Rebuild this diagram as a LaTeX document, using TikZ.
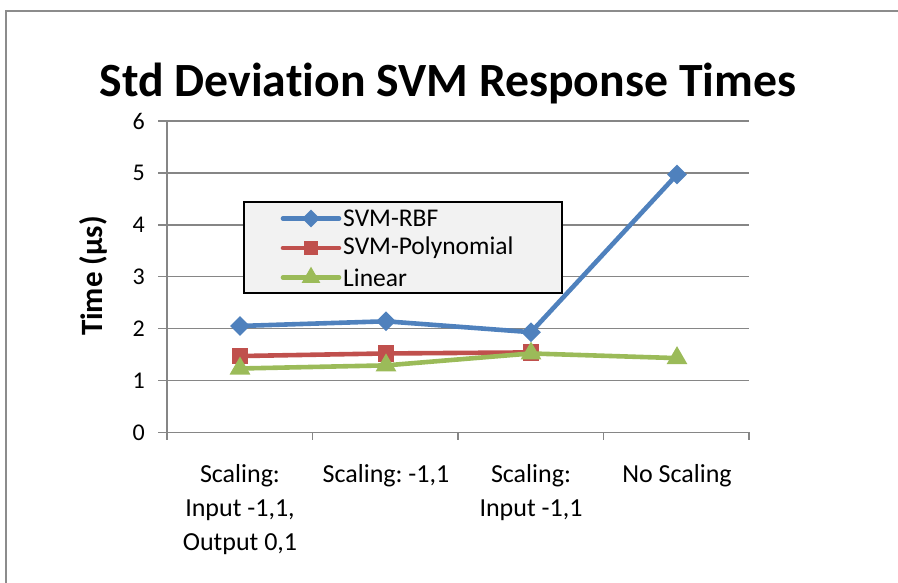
\documentclass[tikz,border=0pt]{standalone}
\usepackage{fontspec}
\setmainfont[Ligatures=NoCommon]{Carlito}
\usetikzlibrary{shapes.geometric,calc}
\definecolor{rbfc}{HTML}{4F81BD}
\definecolor{polyc}{HTML}{C0504D}
\definecolor{linc}{HTML}{9BBB59}
\definecolor{gridc}{HTML}{868686}
\definecolor{framec}{HTML}{8C8C8C}
\definecolor{legbg}{HTML}{F2F2F2}
% value -> vertical position (1 unit = 51.87pt, zero at 432.3)
\newcommand{\yv}[1]{{432.3-51.87*(#1)}}
\frenchspacing
\begin{document}
\begin{tikzpicture}[x=1pt,y=-1pt,
  gridline/.style={gridc, line width=1.6pt},
  series/.style={line width=4.6pt, line join=round},
  rbfmark/.style={diamond, fill=rbfc, inner sep=0pt, minimum size=20pt},
  polymark/.style={rectangle, fill=polyc, inner sep=0pt, minimum size=16.5pt},
  linmark/.style={regular polygon, regular polygon sides=3, fill=linc, inner sep=0pt, minimum size=24pt},
  ticklabel/.style={anchor=east, inner sep=0pt, font=\fontsize{24}{28}\selectfont},
  catlabel/.style={anchor=north, align=center, inner sep=0pt, font=\fontsize{26}{34}\selectfont},
  legtext/.style={anchor=west, inner sep=0pt, font=\fontsize{25.5}{30}\selectfont}
]
\useasboundingbox (0,0) rectangle (898,583);
% chart frame (continues past the right and bottom edges)
\draw[framec, line width=1.6pt] (6,11) rectangle (920,600);

% title
\node[font=\bfseries\fontsize{47.7}{54}\selectfont, inner sep=0pt] (title) at (448,84) {Std Deviation SVM Response Times};

% horizontal gridlines and value labels
\foreach \v in {0,...,6} {
  \draw[gridline] (158,\yv{\v}) -- (749,\yv{\v});
  \node[ticklabel] (tick\v) at (145,\yv{\v}) {\v};
}
% vertical axis
\draw[gridline] (167,\yv{6}) -- (167,440);
% category ticks
\foreach \i in {0,...,4} {
  \draw[gridline] ({167+145.5*\i},\yv{0}) -- ({167+145.5*\i},440);
}

% axis title
\node[font=\bfseries\fontsize{31}{36}\selectfont, rotate=90, inner sep=0pt] (ytitle) at (93,276) {Time (µs)};

% category labels
\node[catlabel] (cat1) at (240,464) {Scaling:\\Input -1,1,\\Output 0,1};
\node[catlabel] (cat2) at (386,464) {Scaling: -1,1};
\node[catlabel] (cat3) at (531,464) {Scaling:\\Input -1,1};
\node[catlabel] (cat4) at (677,464) {No Scaling};

% data points
\coordinate (r1) at (240,\yv{2.05});
\coordinate (r2) at (386,\yv{2.14});
\coordinate (r3) at (531,\yv{1.93});
\coordinate (r4) at (677,\yv{4.97});
\coordinate (p1) at (240,\yv{1.47});
\coordinate (p2) at (386,\yv{1.52});
\coordinate (p3) at (531,\yv{1.54});
\coordinate (l1) at (240,\yv{1.23});
\coordinate (l2) at (386,\yv{1.29});
\coordinate (l3) at (531,\yv{1.52});
\coordinate (l4) at (677,\yv{1.43});

% SVM-Polynomial
\draw[series, polyc] (p1) -- (p2) -- (p3);
\foreach \k in {1,2,3} \node[polymark] (pm\k) at (p\k) {};
% Linear
\draw[series, linc] (l1) -- (l2) -- (l3) -- (l4);
\foreach \k in {1,...,4} \node[linmark] (lm\k) at (l\k) {};
% SVM-RBF
\draw[series, rbfc] (r1) -- (r2) -- (r3) -- (r4);
\foreach \k in {1,...,4} \node[rbfmark] (rm\k) at (r\k) {};

% legend
\node[draw=black, fill=legbg, line width=1.2pt, minimum width=318pt, minimum height=91pt, inner sep=0pt] (legend) at (403,247.5) {};
\foreach \n/\c/\m/\t [count=\j] in {rbf/rbfc/rbfmark/SVM-RBF, poly/polyc/polymark/SVM-Polynomial, lin/linc/linmark/Linear} {
  \coordinate (leg\n a) at (283,{189+29.5*\j});
  \coordinate (leg\n b) at (339,{189+29.5*\j});
  \draw[series, \c, line cap=round] (leg\n a) -- (leg\n b);
  \node[\m, scale=0.9] (leg\n m) at ($(leg\n a)!0.5!(leg\n b)$) {};
  \node[legtext] (leg\n t) at (343,{189+29.5*\j}) {\t};
}
\end{tikzpicture}
\end{document}
